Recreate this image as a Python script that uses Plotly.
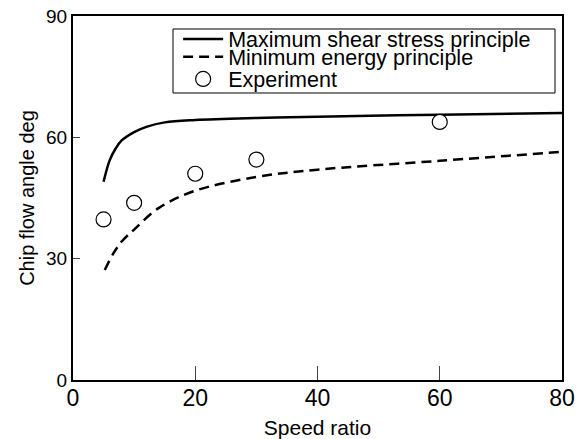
import plotly.graph_objects as go

# Data
shear_x = [5, 6, 7, 8, 10, 12, 15, 20, 30, 40, 60, 80]
shear_y = [49, 54.3, 57.3, 59.3, 61.3, 62.6, 63.7, 64.3, 64.8, 65.1, 65.6, 66.0]

energy_x = [5.2, 6.6, 8, 10, 14, 20, 30, 40, 60, 80]
energy_y = [27.2, 31.3, 34.3, 37.2, 42.5, 46.8, 50.2, 52.0, 54.2, 56.4]

exp_x = [5, 10, 20, 30, 60]
exp_y = [39.7, 43.8, 51.0, 54.5, 63.8]

x_ticks = [0, 20, 40, 60, 80]
y_ticks = [0, 30, 60, 90]

FONT = "Liberation Sans, Arial, Helvetica, sans-serif"

fig = go.Figure()
fig.add_trace(go.Scatter(x=shear_x, y=shear_y, mode="lines", line_shape="spline",
                         name="Maximum shear stress principle", legend="legend",
                         line=dict(color="black", width=2.5)))
fig.add_trace(go.Scatter(x=energy_x, y=energy_y, mode="lines", line_shape="spline",
                         name="Minimum energy principle", legend="legend2",
                         line=dict(color="black", width=2.5, dash="10px,6px")))
fig.add_trace(go.Scatter(x=exp_x, y=exp_y, mode="markers", name="Experiment",
                         legend="legend3",
                         marker=dict(symbol="circle", size=15, color="white",
                                     line=dict(color="black", width=1.2))))

leg_common = dict(xanchor="left", yanchor="middle", bgcolor="rgba(0,0,0,0)",
                  borderwidth=0, font=dict(size=21.5), itemwidth=40)
fig.update_layout(
    width=583, height=439,
    margin=dict(l=73, r=21, t=16, b=59, autoexpand=False),
    paper_bgcolor="white", plot_bgcolor="white",
    font=dict(family=FONT, size=16, color="black"),
    showlegend=True,
    legend=dict(x=0.215, y=0.937, **leg_common),
    legend2=dict(x=0.215, y=0.888, **leg_common),
    legend3=dict(x=0.215, y=0.827, **leg_common),
    shapes=[dict(type="rect", xref="paper", yref="paper",
                 x0=0.2045, x1=0.9857, y0=0.7885, y1=0.9643,
                 line=dict(color="black", width=1), layer="below")],
)
fig.update_xaxes(range=[0, 80], tickvals=x_ticks, ticks="inside", ticklen=14,
                 tickwidth=1, tickcolor="#444", showgrid=False, zeroline=False,
                 showline=True, linecolor="black", linewidth=2, mirror=True,
                 automargin=False, ticklabelstandoff=-4,
                 tickfont=dict(size=23), title=dict(text="Speed ratio", font=dict(size=21)))
fig.update_yaxes(range=[0, 90], tickvals=y_ticks, ticks="inside", ticklen=7,
                 tickwidth=1, tickcolor="#444", showgrid=False, zeroline=False,
                 showline=True, linecolor="black", linewidth=2, mirror=True,
                 automargin=False,
                 tickfont=dict(size=19),
                 title=dict(text="Chip flow angle deg", font=dict(size=20), standoff=6))

fig.write_html("out.html", config={"displayModeBar": False},
               post_script="document.body.style.margin='0';")
